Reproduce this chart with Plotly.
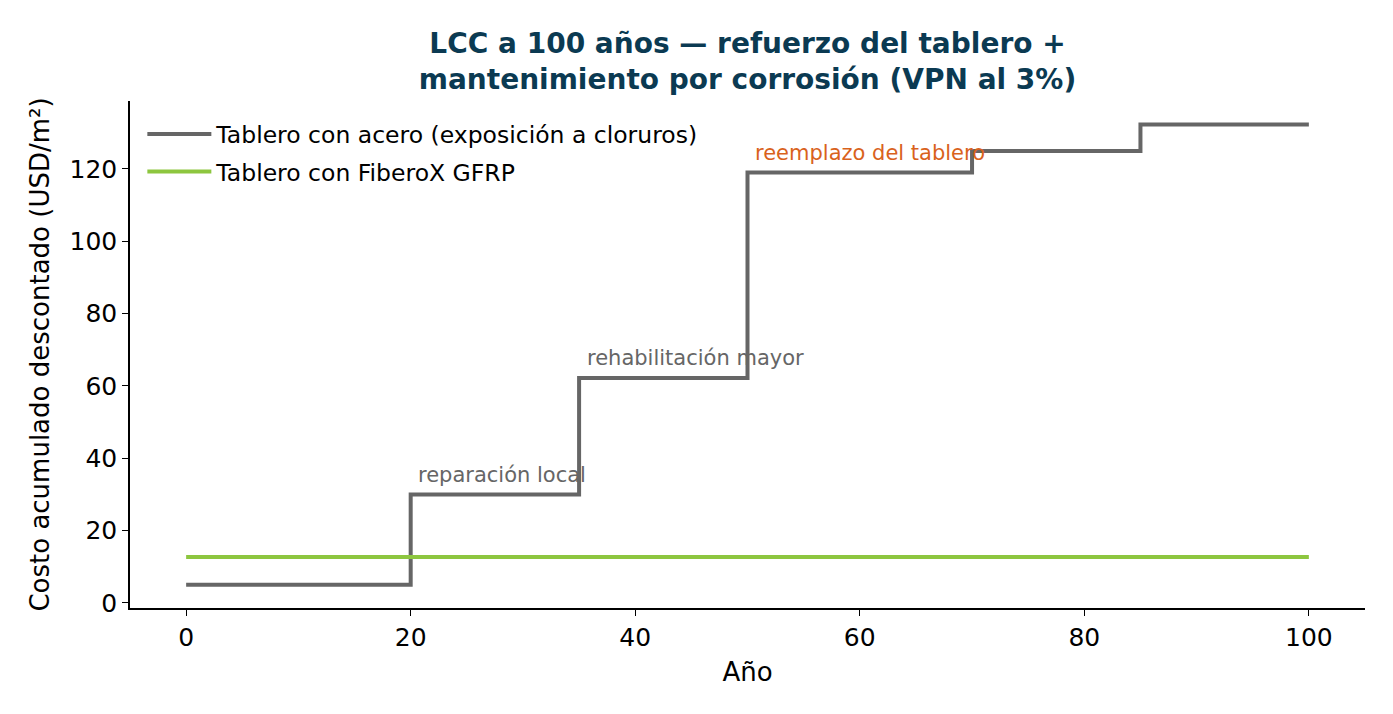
import plotly.graph_objects as go

years = [0, 20, 35, 50, 70, 85, 100]
steel_cost = [5.0, 30.0, 62.2, 119.0, 125.0, 132.3, 132.3]
gfrp_years = [0, 100]
gfrp_cost = [12.7, 12.7]

ann_years = [20, 35, 50]
ann_values = [30.0, 62.2, 119.0]
ann_labels = ["reparación local", "rehabilitación mayor", "reemplazo del tablero"]
ann_colors = ["#666666", "#666666", "#d9621c"]

font = "DejaVu Sans"

fig = go.Figure()
fig.add_trace(go.Scatter(
    x=years, y=steel_cost, mode="lines", line_shape="hv",
    line=dict(color="#666666", width=4), legendgroup="a",
    name="Tablero con acero (exposición a cloruros)"))
fig.add_trace(go.Scatter(
    x=gfrp_years, y=gfrp_cost, mode="lines",
    line=dict(color="#8dc63f", width=4), legendgroup="b",
    name="Tablero con FiberoX GFRP"))

for x, y, t, c in zip(ann_years, ann_values, ann_labels, ann_colors):
    fig.add_annotation(x=x + 0.5, y=y + 1.6, text=t, showarrow=False,
                       xanchor="left", yanchor="bottom",
                       font=dict(family=font, size=21, color=c))

fig.update_layout(
    width=1393, height=714,
    paper_bgcolor="white", plot_bgcolor="white",
    margin=dict(l=130, r=28, t=101, b=106),
    title=dict(text="<b>LCC a 100 años — refuerzo del tablero +<br>mantenimiento por corrosión (VPN al 3%)</b>",
               x=(130 + 1365) / 2 / 1393, xanchor="center", y=1 - 53 / 714, yanchor="top",
               font=dict(family=font, size=28, color="#0b3a52")),
    font=dict(family=font, size=24, color="black"),
    legend=dict(x=0.01, y=0.978, xanchor="left", yanchor="top",
                traceorder="grouped", tracegroupgap=4, itemwidth=64,
                bgcolor="rgba(0,0,0,0)", font=dict(family=font, size=23.5)),
    showlegend=True,
)
fig.update_xaxes(range=[-5, 105], tickvals=[0, 20, 40, 60, 80, 100],
                 showgrid=False, zeroline=False, showline=True, linecolor="black", linewidth=1.5,
                 ticks="outside", ticklen=6, tickwidth=1.2, tickcolor="black",
                 tickfont=dict(size=25),
                 title=dict(text="Año", font=dict(family=font, size=26), standoff=12))
fig.update_yaxes(range=[-1.4, 138.8], tickvals=[0, 20, 40, 60, 80, 100, 120],
                 showgrid=False, zeroline=False, showline=True, linecolor="black", linewidth=1.5,
                 ticks="outside", ticklen=6, tickwidth=1.2, tickcolor="black",
                 tickfont=dict(size=25),
                 title=dict(text="Costo acumulado descontado (USD/m²)", font=dict(family=font, size=26), standoff=12))

fig.write_html("out.html")
